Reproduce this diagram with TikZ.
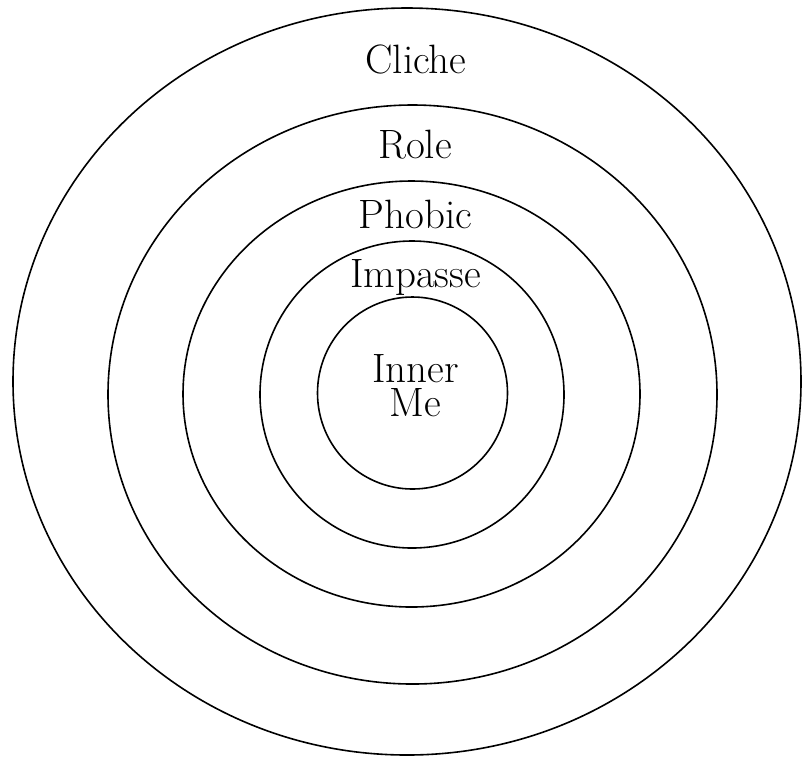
\documentclass[tikz,border=0pt]{standalone}
\usepackage{tikz}
\begin{document}
\begin{tikzpicture}[x=0.5pt,y=-0.5pt,line width=0.8pt]
\tikzset{lbl/.style={anchor=base,inner sep=0pt,font=\fontsize{20.5}{17}\selectfont}}
\useasboundingbox (0,0) rectangle (802,757);
% rings, outside in
\draw (407,381.5) ellipse (394 and 373.5);
\draw (412.5,394.5) ellipse (304.5 and 289.5);
\draw (411.5,394) ellipse (228.5 and 213);
\draw (412,394.5) ellipse (152 and 153.5);
\draw (412.5,393) ellipse (95 and 96);
% labels
\node[lbl] (cliche) at (416,73) {Cliche};
\node[lbl] (role) at (415,158) {Role};
\node[lbl] (phobic) at (415.5,228) {Phobic};
\node[lbl] (impasse) at (415.5,287) {Impasse};
\node[lbl,anchor=center,align=center] (innerme) at (415.5,386) {Inner\\Me};
\end{tikzpicture}
\end{document}
